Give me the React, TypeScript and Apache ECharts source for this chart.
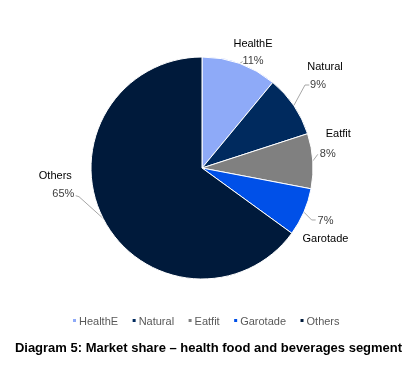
import React, { useEffect, useRef } from "react";
import * as echarts from "echarts";

const categories = ["HealthE", "Natural", "Eatfit", "Garotade", "Others"];
const shares = [11, 9, 8, 7, 65];
const colors = ["#8EAAF8", "#002A5E", "#808080", "#0050E8", "#001A3B"];
const title = "Diagram 5: Market share \u2013 health food and beverages segment";

// label placement relative to the slice's edge point (layout only)
const labelOffsets = [
  { lx: 13.4, ly: -11.9, line: [[3, -2]], lh: 17, padL: 0, padR: 0 },
  { lx: 31.2, ly: -31.1, line: [[11.2, -20.6], [15.5, -20.6]], lh: 18, padL: 0, padR: 14 },
  { lx: 25.5, ly: -17.7, line: [[5, -6.7]], lh: 20, padL: 0, padR: 21 },
  { lx: 21.6, ly: 17.1, line: [[7.8, 7.9], [11.8, 7.9]], lh: 18, padL: 0, padR: 0 },
  { lx: -47.8, ly: -33.9, line: [[-24.1, -21.7], [-27.4, -22.7]], lh: 18, padL: 16, padR: 0 },
];

const font = "Arial, 'Liberation Sans', sans-serif";

export default function App() {
  const ref = useRef<HTMLDivElement>(null);
  useEffect(() => {
    const chart = echarts.init(ref.current!, null, { renderer: "svg" });
    chart.setOption({
      animation: false,
      title: {
        text: title,
        left: "center",
        top: 336,
        textStyle: { fontFamily: font, fontSize: 13, fontWeight: "bold", color: "#000" },
      },
      legend: {
        data: categories,
        top: 315,
        left: 71,
        padding: 0,
        itemWidth: 5,
        itemHeight: 5,
        itemGap: 12.5,
        icon: "rect",
        textStyle: { fontFamily: font, fontSize: 11, color: "#595959", padding: [0, 0, 0, -3] },
      },
      series: [
        {
          type: "pie",
          center: [202, 168],
          radius: 111,
          startAngle: 90,
          clockwise: true,
          itemStyle: { borderColor: "#fff", borderWidth: 1 },
          label: {
            fontFamily: font,
            fontSize: 11,
            color: "#000",
          },
          labelLine: { length: 8, length2: 8, lineStyle: { color: "#A6A6A6", width: 1 } },
          labelLayout: (params: any) => {
            const o = labelOffsets[params.dataIndex];
            const p0 = params.labelLinePoints ? params.labelLinePoints[0] : [0, 0];
            const pts = [[p0[0], p0[1]]].concat(o.line.map((d: number[]) => [p0[0] + d[0], p0[1] + d[1]]));
            return {
              x: p0[0] + o.lx,
              y: p0[1] + o.ly,
              align: "center",
              verticalAlign: "middle",
              labelLinePoints: pts,
            };
          },
          data: categories.map((c, i) => {
            const o = labelOffsets[i];
            return {
              name: c,
              value: shares[i],
              itemStyle: { color: colors[i] },
              label: {
                formatter: c === "Garotade" ? "{p|{c}%}\n{n|{b}}" : "{n|{b}}\n{p|{c}%}",
                rich: {
                  n: { fontFamily: font, fontSize: 11, color: "#000", lineHeight: o.lh },
                  p: {
                    fontFamily: font,
                    fontSize: 11,
                    color: "#404040",
                    lineHeight: o.lh,
                    padding: [0, o.padR, 0, o.padL],
                  },
                },
              },
            };
          }),
        },
      ],
    });
    return () => chart.dispose();
  }, []);
  return <div ref={ref} style={{ position: "fixed", left: 0, top: 0, width: 417, height: 375 }} />;
}
